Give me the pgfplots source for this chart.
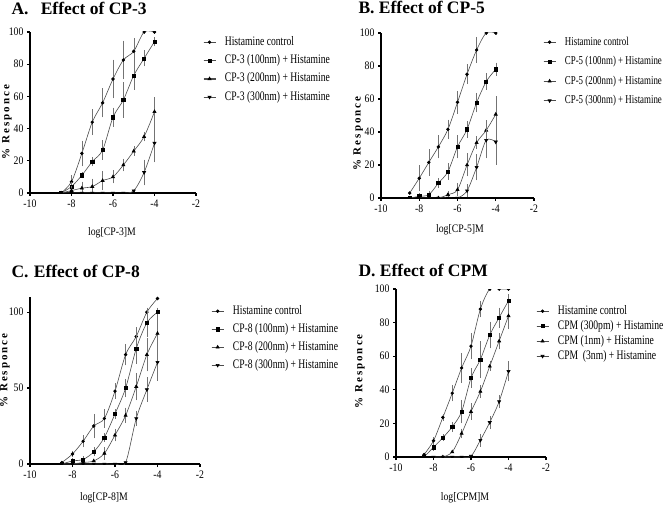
\documentclass[border=0pt]{standalone}
\usepackage{fontspec}
\setmainfont{Liberation Serif}
\newfontfamily\cond[FakeStretch=0.85]{Liberation Serif}
\newfontfamily\condx[FakeStretch=0.74]{Liberation Serif}
\newfontfamily\spaced[LetterSpace=18]{Liberation Serif}
\usepackage{pgfplots}
\pgfplotsset{compat=1.18}
\pgfplotsset{
  every axis title shift=0pt,
  panel/.style={
    scale only axis,
    axis lines=left,
    axis line style={line width=1.8pt,-},
    xmin=-10,xmax=-2,ymin=0,ymax=100,
    xtick={-10,-8,-6,-4,-2},
    ytick={0,20,40,60,80,100},
    tick align=outside,
    major tick length=3pt,
    every tick/.style={black,line width=1.2pt},
    tick label style={font=\cond\fontsize{11.5}{11.5}\selectfont},
    /pgf/number format/assume math mode=true,
    clip marker paths=true,
    legend cell align=left,
    legend style={draw=none,fill=none,inner sep=0pt,anchor=north west,
      font=\condx\fontsize{13}{13}\selectfont,
      nodes={inner sep=1pt,text height=8pt,text depth=2pt}},
    legend image code/.code={\draw[black!70,line width=0.8pt] (0pt,0pt)--(12pt,0pt); \draw[mark repeat=2,mark phase=2,##1] plot coordinates {(0pt,0pt) (6pt,0pt) (12pt,0pt)}; \path (0pt,0pt) (20pt,0pt);},
    xlabel style={font=\cond\fontsize{11.5}{11.5}\selectfont,anchor=center},
    ylabel style={font=\spaced\bfseries\fontsize{11}{11}\selectfont,anchor=center},
    title style={font=\bfseries\fontsize{17.5}{17.5}\selectfont,anchor=west},
  },
  ser/.style={black!70,line width=0.6pt,smooth,tension=0.5,
    mark options={black,fill=black,solid},
    error bars/y dir=both, error bars/y explicit,
    error bars/error bar style={black!55,line width=0.45pt},
    error bars/error mark options={black!55,mark size=1.6pt,line width=0.45pt}},
}
\begin{document}
\begin{tikzpicture}[x=1pt,y=1pt]
\useasboundingbox (0,0) rectangle (667,509);
% ---------------- A ----------------
\begin{axis}[panel,at={(30pt,316pt)},anchor=south west,width=166pt,height=161pt,
  title={A.\hspace{0.7em}Effect of CP-3},title style={at={(axis description cs:-0.1325,1.149)}},
  xlabel={log[CP-3]M},xlabel style={at={(axis description cs:0.494,-0.245)}},
  ylabel={\% Responce},ylabel style={at={(axis description cs:-0.139,0.44)}},
  legend style={at={(axis description cs:1.042,0.975)},row sep=6.3pt}]
\addplot[mark=*,mark size=1.4pt,ser] coordinates {
 (-8.5,0) (-8,7)+-(0,3) (-7.5,24.6)+-(0,7) (-7,44)+-(0,7) (-6.5,56)+-(0,8) (-6,70.8)+-(0,11)
 (-5.5,82.6)+-(0,11) (-5,88)+-(0,7) (-4.5,100)+-(0,0) (-4,100)+-(0,0)};
\addplot[mark=square*,mark size=1.6pt,ser] coordinates {
 (-8.5,0) (-8,4)+-(0,2) (-7.5,11)+-(0,1) (-7,19.5)+-(0,2) (-6.5,26.7)+-(0,5) (-6,47)+-(0,5)
 (-5.5,57.8)+-(0,10) (-5,73)+-(0,8) (-4.5,83.6)+-(0,4) (-4,94)+-(0,2)};
\addplot[mark=triangle*,mark size=1.8pt,ser] coordinates {
 (-8.5,0) (-8,1.5)+-(0,2) (-7.5,3)+-(0,3) (-7,4)+-(0,4) (-6.5,7.7)+-(0,5) (-6,10)+-(0,3)
 (-5.5,17.4)+-(0,3) (-5,26)+-(0,2) (-4.5,35)+-(0,2) (-4,50.5)+-(0,8)};
\addplot[mark=triangle*,mark size=1.8pt,ser,mark options={black,fill=black,rotate=180}] coordinates {
 (-8.5,0) (-8,0) (-7.5,0) (-7,0) (-6.5,0) (-6,0) (-5.5,0) (-5,1.4)+-(0,0)
 (-4.5,12.8)+-(0,7) (-4,31)+-(0,11)};
\legend{Histamine control,CP-3 (100nm) + Histamine,CP-3 (200nm) + Histamine,CP-3 (300nm) + Histamine}
\end{axis}
% ---------------- B ----------------
\begin{axis}[panel,at={(381pt,311pt)},anchor=south west,width=153pt,height=165pt,
  title={B. Effect of CP-5},title style={at={(axis description cs:-0.17,1.152)}},
  xlabel={log[CP-5]M},xlabel style={at={(axis description cs:0.516,-0.194)}},
  ylabel={\% Responce},ylabel style={at={(axis description cs:-0.15,0.39)}},
  legend style={at={(axis description cs:1.059,0.982)},row sep=7.5pt,font=\condx\fontsize{12}{12}\selectfont}]
\addplot[mark=*,mark size=1.4pt,ser] coordinates {
 (-8.5,3) (-8,12)+-(0,7) (-7.5,21.6)+-(0,7) (-7,31)+-(0,6) (-6.5,41.6)+-(0,5) (-6,58)+-(0,6)
 (-5.5,75)+-(0,5) (-5,89.7)+-(0,7) (-4.5,100)+-(0,0) (-4,100)+-(0,0)};
\addplot[mark=square*,mark size=1.6pt,ser] coordinates {
 (-8.5,0) (-8,1)+-(0,1) (-7.5,2)+-(0,1) (-7,9)+-(0,2) (-6.5,16)+-(0,4) (-6,31)+-(0,6)
 (-5.5,41.6)+-(0,4) (-5,57.8)+-(0,5) (-4.5,70.5)+-(0,4) (-4,78)+-(0,3)};
\addplot[mark=triangle*,mark size=1.8pt,ser] coordinates {
 (-8,0) (-7.5,0) (-7,0) (-6.5,2)+-(0,1) (-6,5)+-(0,3) (-5.5,20)+-(0,6)
 (-5,33.5)+-(0,3) (-4.5,41)+-(0,5) (-4,50.7)+-(0,10)};
\addplot[mark=triangle*,mark size=1.8pt,ser,mark options={black,fill=black,rotate=180}] coordinates {
 (-7,0) (-6.5,0) (-6,0) (-5.5,4.4)+-(0,3) (-5,18.6)+-(0,7) (-4.5,35)+-(0,10) (-4,34)+-(0,13)};
\legend{Histamine control,CP-5 (100nm) + Histamine,CP-5 (200nm) + Histamine,CP-5 (300nm) + Histamine}
\end{axis}
% ---------------- C ----------------
\begin{axis}[panel,at={(30pt,45pt)},anchor=south west,width=170pt,height=167pt,ymax=110,
  ytick={0,50,100},
  title={C.\hspace{0.3em}Effect of CP-8},title style={at={(axis description cs:-0.129,1.15)}},
  xlabel={log[CP-8]M},xlabel style={at={(axis description cs:0.435,-0.204)}},
  ylabel={\% Responce},ylabel style={at={(axis description cs:-0.147,0.56)}},
  legend style={at={(axis description cs:1.065,0.952)},row sep=6pt}]
\addplot[mark=*,mark size=1.4pt,ser] coordinates {
 (-8.5,1) (-8,6.6)+-(0,1) (-7.5,15)+-(0,3) (-7,25)+-(0,7) (-6.5,30)+-(0,5) (-6,48)+-(0,4)
 (-5.5,72)+-(0,6) (-5,84)+-(0,5) (-4.5,100)+-(0,2) (-4,109)+-(0,0)};
\addplot[mark=square*,mark size=1.6pt,ser] coordinates {
 (-8.5,0) (-8,2)+-(0,1) (-7.5,3)+-(0,1) (-7,8)+-(0,2) (-6.5,17.5)+-(0,2) (-6,33)+-(0,2)
 (-5.5,50)+-(0,5) (-5,76)+-(0,9) (-4.5,93)+-(0,8) (-4,100)+-(0,2)};
\addplot[mark=triangle*,mark size=1.8pt,ser] coordinates {
 (-8,0) (-7.5,1) (-7,2) (-6.5,7)+-(0,3) (-6,19)+-(0,3) (-5.5,32)+-(0,4)
 (-5,51)+-(0,8) (-4.5,72)+-(0,10) (-4,86)+-(0,10)};
\addplot[mark=triangle*,mark size=1.8pt,ser,mark options={black,fill=black,rotate=180}] coordinates {
 (-8.5,0) (-8,0) (-7.5,0) (-7,0) (-6.5,0) (-6,0) (-5.5,1) (-5,30)+-(0,4) (-4.5,49)+-(0,7) (-4,67)+-(0,11)};
\legend{Histamine control,CP-8 (100nm) + Histamine,CP-8 (200nm) + Histamine,CP-8 (300nm) + Histamine}
\end{axis}
% ---------------- D ----------------
\begin{axis}[panel,at={(396pt,52pt)},anchor=south west,width=150pt,height=168pt,
  title={D. Effect of CPM},title style={at={(axis description cs:-0.273,1.113)}},
  xlabel={log[CPM]M},xlabel style={at={(axis description cs:0.46,-0.244)}},
  ylabel={\% Responce},ylabel style={at={(axis description cs:-0.24,0.51)}},
  legend style={at={(axis description cs:0.933,0.905)},row sep=3pt}]
\addplot[mark=*,mark size=1.4pt,ser] coordinates {
 (-8.5,1.5) (-8,9.7)+-(0,1) (-7.5,23.6)+-(0,1) (-7,38)+-(0,4) (-6.5,53)+-(0,8) (-6,66)+-(0,7)
 (-5.5,88)+-(0,4) (-5,100)+-(0,0) (-4.5,100)+-(0,0) (-4,100)+-(0,0)};
\addplot[mark=square*,mark size=1.6pt,ser] coordinates {
 (-8.5,0) (-8,5.8)+-(0,1) (-7.5,11.5)+-(0,1) (-7,18)+-(0,2) (-6.5,27)+-(0,6) (-6,47)+-(0,5)
 (-5.5,58)+-(0,10) (-5,72.6)+-(0,7) (-4.5,83)+-(0,5) (-4,93)+-(0,3)};
\addplot[mark=triangle*,mark size=1.8pt,ser] coordinates {
 (-7.5,0) (-7,3) (-6.5,14)+-(0,2) (-6,27)+-(0,4) (-5.5,39)+-(0,3)
 (-5,54)+-(0,2) (-4.5,69)+-(0,4) (-4,84)+-(0,7)};
\addplot[mark=triangle*,mark size=1.8pt,ser,mark options={black,fill=black,rotate=180}] coordinates {
 (-8,0) (-7.5,0) (-7,0) (-6.5,0) (-6,0.5) (-5.5,10)+-(0,3) (-5,20.6)+-(0,3) (-4.5,33)+-(0,3) (-4,51)+-(0,5)};
\legend{Histamine control,CPM (300pm) + Histamine,CPM (1nm) + Histamine,CPM\ \ (3nm) + Histamine}
\end{axis}
\end{tikzpicture}
\end{document}
